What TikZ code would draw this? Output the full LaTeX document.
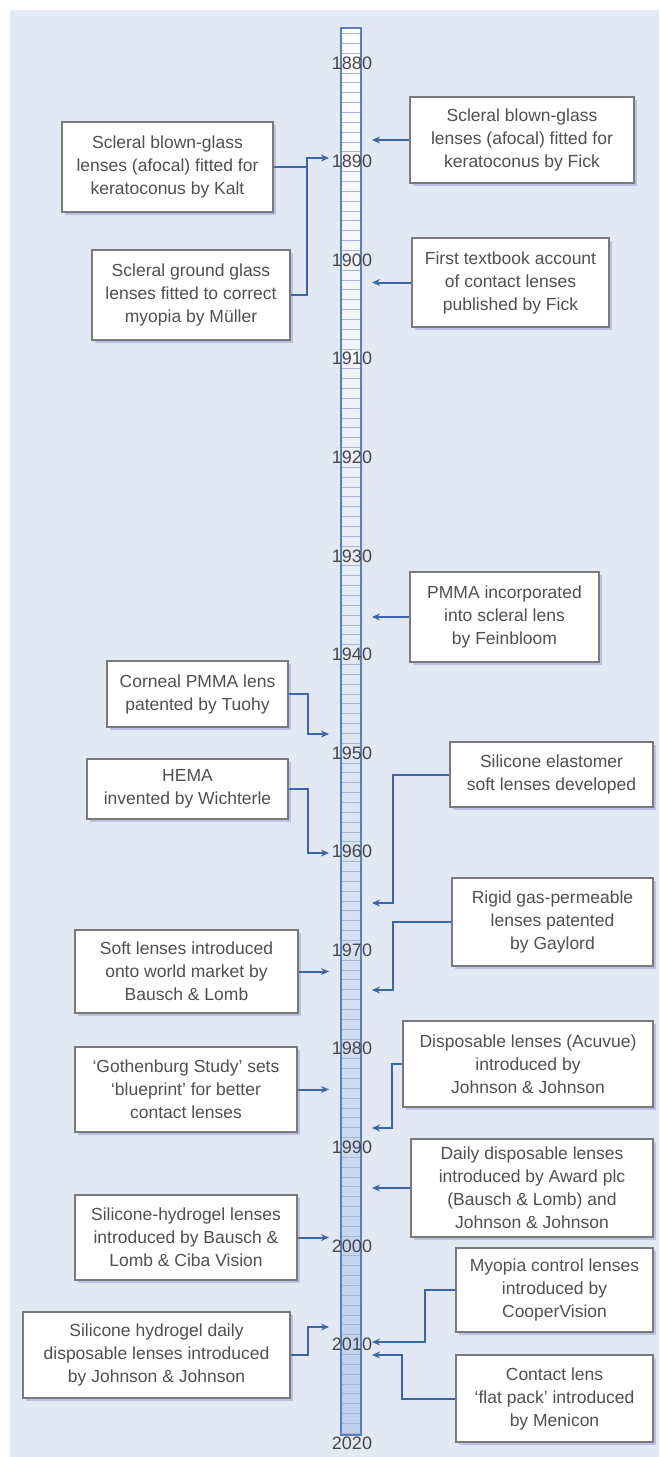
\documentclass[tikz,border=0pt]{standalone}
\usepackage{fontspec}
\setmainfont{Liberation Sans}
\usetikzlibrary{arrows.meta,shadows}

\definecolor{bgblue}{HTML}{E3E9F4}
\definecolor{linkblue}{HTML}{3C66AC}
\definecolor{barblue}{HTML}{5B80C2}
\definecolor{barfill}{HTML}{BFCFEC}
\definecolor{tickblue}{HTML}{A3B6DA}
\definecolor{txtgray}{HTML}{505050}
\definecolor{boxline}{HTML}{7A7A7A}

\tikzset{
  evt/.style={draw=boxline, line width=1.1pt, fill=white, align=center,
    text=txtgray, font=\fontsize{17.5}{23}\selectfont, inner sep=2pt,
    drop shadow={shadow xshift=2.5pt, shadow yshift=-3pt,
      fill=black!45!blue!40, opacity=0.5}},
  link/.style={draw=linkblue, line width=2pt, -{Stealth[length=8pt,width=7pt]}},
  feed/.style={draw=linkblue, line width=2pt},
  yearlbl/.style={text=black!72, font=\fontsize{18}{18}\selectfont, inner sep=0pt},
  tick/.style={draw=tickblue, line width=0.6pt}
}

\begin{document}
\begin{tikzpicture}[x=1pt, y=-1pt]
  \useasboundingbox (0,0) rectangle (659,1457);
  \fill[bgblue] (10,10) rectangle (659,1457);

  \shade[top color=white, bottom color=barfill] (341,28) rectangle (361,1435);
  \foreach \yr in {1877,...,2019}{
    \pgfmathtruncatemacro\r{mod(\yr,10)}
    \ifnum\r>0 \draw[tick] (341,{63+(\yr-1880)*9.857}) -- ++(20,0); \fi
  }
  \draw[barblue, line width=1.3pt] (341,28) rectangle (361,1435);
  \foreach \yr in {1880,1890,...,2020}
    \node[yearlbl] (y\yr) at (352,{63+(\yr-1880)*9.857}) {\yr};

  \node[evt, minimum width=211pt, minimum height=90pt] (kalt) at (167.5,167)
    {Scleral blown-glass\\lenses (afocal) fitted for\\keratoconus by Kalt};
  \node[evt, minimum width=198pt, minimum height=90pt] (muller) at (191,295)
    {Scleral ground glass\\lenses fitted to correct\\myopia by Müller};
  \node[evt, minimum width=224pt, minimum height=86pt] (fick) at (522,140)
    {Scleral blown-glass\\lenses (afocal) fitted for\\keratoconus by Fick};
  \node[evt, minimum width=197pt, minimum height=89pt] (textbook) at (510.5,282.5)
    {First textbook account\\of contact lenses\\published by Fick};
  \node[evt, minimum width=189pt, minimum height=90pt] (feinbloom) at (504.5,617)
    {PMMA incorporated\\into scleral lens\\by Feinbloom};
  \node[evt, minimum width=181pt, minimum height=66pt] (tuohy) at (197.5,694)
    {Corneal PMMA lens\\patented by Tuohy};
  \node[evt, minimum width=201pt, minimum height=60pt] (hema) at (187.5,789)
    {HEMA\\invented by Wichterle};
  \node[evt, minimum width=203pt, minimum height=65pt] (elastomer) at (551.5,774.5)
    {Silicone elastomer\\soft lenses developed};
  \node[evt, minimum width=201pt, minimum height=88pt] (gaylord) at (552.5,922)
    {Rigid gas-permeable\\lenses patented\\by Gaylord};
  \node[evt, minimum width=223pt, minimum height=83pt] (softlens) at (186.5,971.5)
    {Soft lenses introduced\\onto world market by\\Bausch \& Lomb};
  \node[evt, minimum width=250pt, minimum height=86pt] (acuvue) at (528,1064)
    {Disposable lenses (Acuvue)\\introduced by\\Johnson \& Johnson};
  \node[evt, minimum width=222pt, minimum height=85pt] (gothenburg) at (186,1089.5)
    {`Gothenburg Study' sets\\`blueprint' for better\\contact lenses};
  \node[evt, minimum width=242pt, minimum height=98pt] (award) at (532,1188)
    {Daily disposable lenses\\introduced by Award plc\\(Bausch \& Lomb) and\\Johnson \& Johnson};
  \node[evt, minimum width=222pt, minimum height=85pt] (sihy) at (186,1237.5)
    {Silicone-hydrogel lenses\\introduced by Bausch \&\\Lomb \& Ciba Vision};
  \node[evt, minimum width=197pt, minimum height=84pt] (myopia) at (554.5,1290)
    {Myopia control lenses\\introduced by\\CooperVision};
  \node[evt, minimum width=267pt, minimum height=86pt] (sihydaily) at (156.5,1355)
    {Silicone hydrogel daily\\disposable lenses introduced\\by Johnson \& Johnson};
  \node[evt, minimum width=197pt, minimum height=87pt] (flatpack) at (554.5,1398.5)
    {Contact lens\\`flat pack' introduced\\by Menicon};

  \coordinate (tipL) at (329,0);
  \coordinate (tipR) at (372,0);
  \coordinate (j1889) at (307,167);
  \coordinate (t1889) at (329,158);
  \coordinate (t1947) at (329,734);
  \coordinate (t1960) at (329,853);
  \coordinate (t1965) at (372,903);
  \coordinate (t1972) at (372,990);
  \coordinate (t1987) at (372,1128);
  \coordinate (t2008) at (329,1327);
  \coordinate (t2009) at (372,1342);
  \coordinate (t2010) at (372,1355);

  \draw[link] (kalt.east) -- (j1889) |- (t1889);
  \draw[feed] (muller.east) -| (j1889);
  \draw[link] (fick.west) -- (fick.west -| tipR);
  \draw[link] (textbook.west) -- (textbook.west -| tipR);
  \draw[link] (feinbloom.west) -- (feinbloom.west -| tipR);
  \draw[link] (tuohy.east) -- ++(19,0) |- (t1947);
  \draw[link] (hema.east) -- ++(19,0) |- (t1960);
  \draw[link] (elastomer.west) -- ++(-56,0) |- (t1965);
  \draw[link] (gaylord.west) -- ++(-58,0) |- (t1972);
  \draw[link] (softlens.east) -- (softlens.east -| tipL);
  \draw[link] (acuvue.west) -- ++(-10,0) |- (t1987);
  \draw[link] (gothenburg.east) -- (gothenburg.east -| tipL);
  \draw[link] (award.west) -- (award.west -| tipR);
  \draw[link] (sihy.east) -- (sihy.east -| tipL);
  \draw[link] (myopia.west) -- ++(-30,0) |- (t2009);
  \draw[link] (sihydaily.east) -- ++(17,0) |- (t2008);
  \draw[link] (flatpack.west) -- ++(-53,0) |- (t2010);
\end{tikzpicture}
\end{document}
